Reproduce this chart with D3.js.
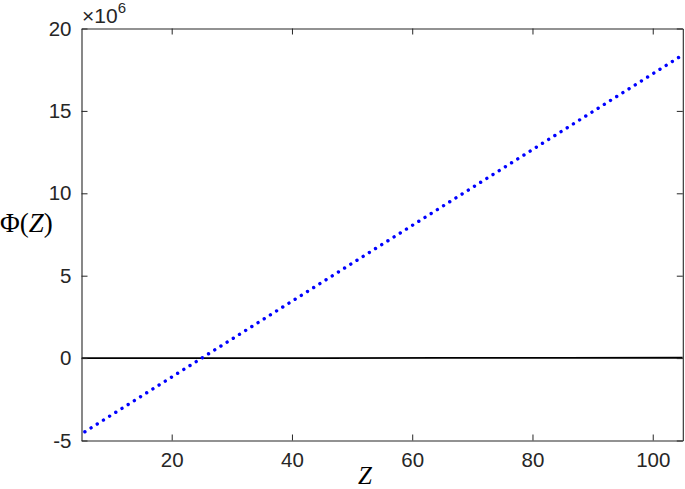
<!DOCTYPE html>
<html>
<head>
<meta charset="utf-8">
<script src="https://cdn.jsdelivr.net/npm/d3@7"></script>
<style>
  html, body { margin: 0; padding: 0; background: #fff; }
  svg { display: block; }
</style>
</head>
<body>
<svg id="chart" width="685" height="489"></svg>
<script>
// Data (Phi in units of 1e6)
const zValues    = [5, 25, 45, 65, 85, 105];
const phiDotted  = [-4.6, 0, 4.6, 9.2, 13.8, 18.4];
const phiSolid   = [0, 0, 0, 0.01, 0.01, 0.02];
const xTicks     = [20, 40, 60, 80, 100];
const yTicks     = [-5, 0, 5, 10, 15, 20];

const svg = d3.select("#chart");
const pLeft = 81.5, pRight = 682.8, pTop = 28.5, pBottom = 440.5;
const axisColor = "#262626";

const x = d3.scaleLinear().domain([5, 105]).range([pLeft, pRight]);
const y = d3.scaleLinear().domain([-5, 20]).range([pBottom, pTop]);

svg.append("defs").append("clipPath").attr("id", "clip")
  .append("rect").attr("x", pLeft).attr("y", pTop)
  .attr("width", pRight - pLeft).attr("height", pBottom - pTop);

const plot = svg.append("g").attr("clip-path", "url(#clip)");

const line = d3.line().x((d, i) => x(zValues[i])).y(d => y(d));

plot.append("path")
  .datum(phiSolid)
  .attr("d", line)
  .attr("fill", "none")
  .attr("stroke", "#000")
  .attr("stroke-width", 1.8);

plot.append("path")
  .datum(phiDotted)
  .attr("d", line)
  .attr("fill", "none")
  .attr("stroke", "#0000ff")
  .attr("stroke-width", 3.4)
  .attr("stroke-linecap", "round")
  .attr("stroke-dasharray", "0.01 7.3")
  .attr("stroke-dashoffset", -4);

// Axes
const font = "Liberation Sans, Arial, Helvetica, sans-serif";
const tickLen = 6;
const fmt = d => String(d);

const xAxisB = d3.axisBottom(x).tickValues(xTicks).tickFormat(fmt).tickSizeInner(-tickLen).tickSizeOuter(0).tickPadding(12);
const xAxisT = d3.axisTop(x).tickValues(xTicks).tickSizeInner(-tickLen).tickSizeOuter(0).tickFormat("");
const yAxisL = d3.axisLeft(y).tickValues(yTicks).tickFormat(fmt).tickSizeInner(-tickLen).tickSizeOuter(0).tickPadding(10);
const yAxisR = d3.axisRight(y).tickValues(yTicks).tickSizeInner(-tickLen).tickSizeOuter(0).tickFormat("");

function style(g) {
  g.select(".domain").attr("stroke", axisColor).attr("stroke-width", 1.1);
  g.selectAll(".tick line").attr("stroke", axisColor).attr("stroke-width", 1);
  g.selectAll(".tick text").attr("fill", axisColor).attr("font-family", font).attr("font-size", 20.5);
}

svg.append("g").attr("transform", `translate(0,${pBottom})`).call(xAxisB).call(style);
svg.append("g").attr("transform", `translate(0,${pTop})`).call(xAxisT).call(style);
svg.append("g").attr("transform", `translate(${pLeft},0)`).call(yAxisL).call(style);
svg.append("g").attr("transform", `translate(${pRight},0)`).call(yAxisR).call(style);

// Exponent label
const expo = svg.append("text")
  .attr("x", 82).attr("y", 23)
  .attr("fill", axisColor).attr("font-family", font).attr("font-size", 21);
expo.append("tspan").text("×10");
expo.append("tspan").attr("dy", -10).attr("font-size", 15).text("6");

// Axis labels
const serif = "Liberation Serif, Times New Roman, serif";
const yl = svg.append("text")
  .attr("x", 0).attr("y", 232)
  .attr("fill", "#000").attr("font-family", serif).attr("font-size", 27);
yl.append("tspan").text("Φ(");
yl.append("tspan").attr("font-style", "italic").text("Z");
yl.append("tspan").text(")");

svg.append("text")
  .attr("x", 365).attr("y", 484)
  .attr("text-anchor", "middle")
  .attr("fill", "#000").attr("font-family", serif).attr("font-style", "italic")
  .attr("font-size", 25).text("Z");
</script>
</body>
</html>
